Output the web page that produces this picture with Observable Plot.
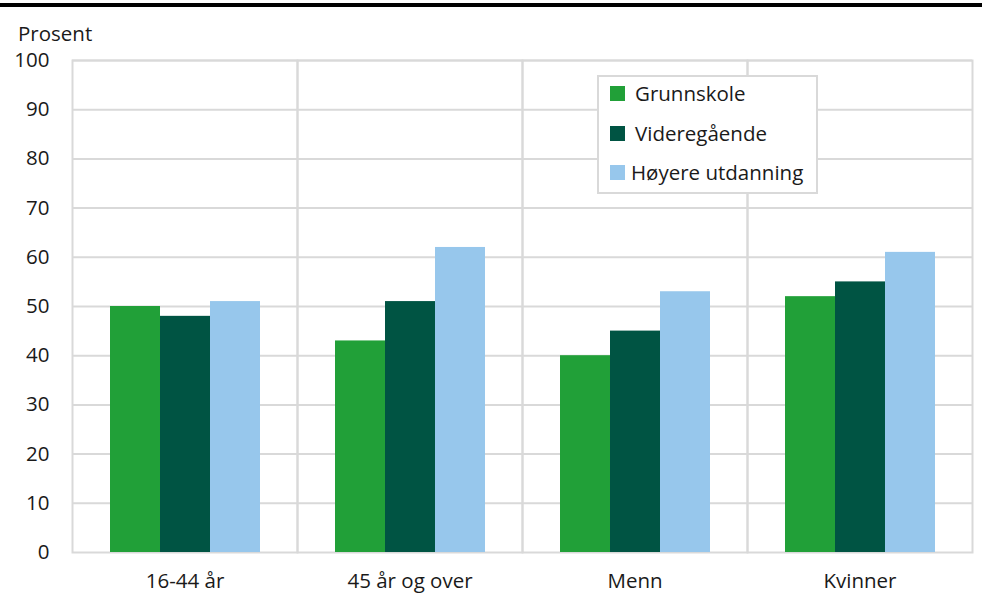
<!DOCTYPE html>
<html>
<head>
<meta charset="utf-8">
<script src="https://cdn.jsdelivr.net/npm/d3@7"></script>
<script src="https://cdn.jsdelivr.net/npm/@observablehq/plot@0.6"></script>
<style>
  html, body { margin: 0; padding: 0; background: #fff; }
  #wrap { position: relative; width: 982px; height: 594px; font-family: "Open Sans", sans-serif; color: #1a1a1a; }
  #topline { position: absolute; left: 0; top: 3px; width: 982px; height: 4px; background: #000; }
  #unit { position: absolute; left: 18px; top: 23px; font-size: 20.5px; line-height: 1; }
  #legendbox { position: absolute; left: 597px; top: 75px; width: 217px; height: 115px; border: 2px solid #d9d9d9; background: #fff; box-sizing: content-box; }
  #legendbox .lg-swatches { margin: 0 !important; padding: 0; font-family: "Open Sans", sans-serif !important; font-size: 20.5px !important; color: #1a1a1a; }
  #legendbox .lg-swatch { position: absolute; left: 11px; width: 205px; height: 20px; margin: 0 !important; padding: 0 !important; line-height: 20px; display: flex; align-items: center; overflow: visible !important; }
  #legendbox .lg-swatch > * { overflow: visible !important; text-overflow: clip !important; }
  #legendbox .lg-swatch svg { margin-right: 10px !important; flex-shrink: 0; }
  #plot { position: absolute; left: 0; top: 0; }
</style>
</head>
<body>
<div id="wrap">
  <div id="plot"></div>
  <div id="topline"></div>
  <div id="unit">Prosent</div>
  <div id="legendbox"></div>
</div>
<script>
const groups = ["16-44 år", "45 år og over", "Menn", "Kvinner"];
const series = ["Grunnskole", "Videregående", "Høyere utdanning"];
const grunnskole = [50, 43, 40, 52];
const videregaende = [48, 51, 45, 55];
const hoyere = [51, 62, 53, 61];
const colors = ["#21a038", "#005443", "#97c7ec"];
const yTicks = [0, 10, 20, 30, 40, 50, 60, 70, 80, 90, 100];

const seriesValues = [grunnskole, videregaende, hoyere];
const data = [];
groups.forEach((g, i) => {
  series.forEach((s, j) => {
    data.push({group: g, series: s, value: seriesValues[j][i]});
  });
});

const chart = Plot.plot({
  width: 982,
  height: 594,
  marginLeft: 71,
  marginRight: 10,
  marginTop: 60,
  marginBottom: 42,
  style: {fontFamily: "Open Sans, sans-serif", fontSize: "20.5px", color: "#1a1a1a", background: "transparent"},
  fx: {domain: groups, padding: 0, label: null, axis: "bottom", tickSize: 0, tickPadding: 21},
  x: {domain: series, axis: null, paddingInner: 0, paddingOuter: 0.75},
  y: {domain: [0, 100], ticks: yTicks, tickSize: 0, tickPadding: 23, label: null},
  color: {domain: series, range: colors},
  marks: [
    Plot.ruleY(yTicks.slice(1), {stroke: "#d9d9d9", strokeWidth: 2}),
    Plot.frame({stroke: "#d9d9d9", strokeWidth: 2}),
    Plot.barY(data, {fx: "group", x: "series", y: "value", fill: "series"})
  ]
});
document.getElementById("plot").appendChild(chart);

const legend = chart.legend("color", {legend: "swatches", className: "lg", columns: 1, swatchSize: 15});
const box = document.getElementById("legendbox");
box.appendChild(legend);
const tops = [6, 46, 85];
legend.querySelectorAll(".lg-swatch").forEach((el, i) => {
  el.style.top = tops[i] + "px";
  if (i === 2) el.querySelector("svg").style.setProperty("margin-right", "6px", "important");
});
</script>
</body>
</html>
